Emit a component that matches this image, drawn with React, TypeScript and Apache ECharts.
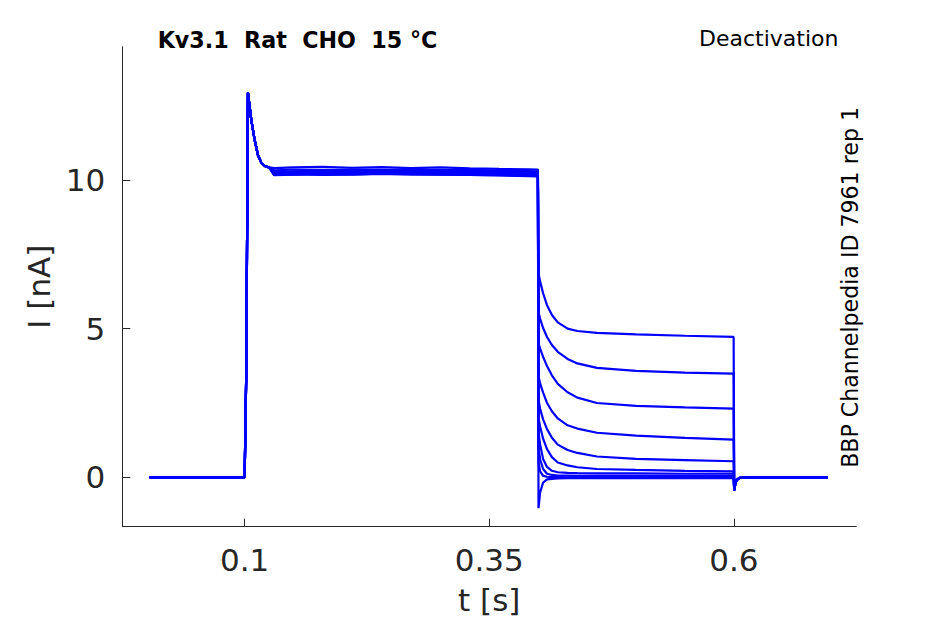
import React, { useEffect, useRef } from "react";
import * as echarts from "echarts";

// ---- Data ----
const xTicks = [0.1, 0.35, 0.6];
const yTicks = [0, 5, 10];

const baseTimes = [0.003, 0.1];
const baseValues = [0, 0];

const riseTimes = [0.1001, 0.1017, 0.1034, 0.1068, 0.1102, 0.1136, 0.117, 0.1205, 0.125];
const riseValues = [0.15, 3.6, 12.93, 12.02, 11.35, 10.84, 10.58, 10.47, 10.42];

const plateauTimes = [0.13, 0.15, 0.18, 0.21, 0.24, 0.27, 0.3, 0.33, 0.36, 0.39, 0.3997];
const plateau1 = [10.4, 10.42, 10.44, 10.41, 10.43, 10.4, 10.42, 10.39, 10.37, 10.36, 10.35];
const plateau2 = [10.32, 10.35, 10.33, 10.36, 10.34, 10.35, 10.33, 10.34, 10.31, 10.3, 10.29];
const plateau3 = [10.28, 10.27, 10.3, 10.28, 10.3, 10.27, 10.29, 10.27, 10.26, 10.24, 10.24];
const plateau4 = [10.25, 10.24, 10.26, 10.25, 10.27, 10.28, 10.26, 10.25, 10.23, 10.22, 10.21];
const plateau5 = [10.22, 10.24, 10.23, 10.22, 10.24, 10.25, 10.23, 10.21, 10.2, 10.19, 10.18];
const plateau6 = [10.2, 10.22, 10.19, 10.21, 10.2, 10.22, 10.21, 10.19, 10.18, 10.16, 10.15];
const plateau7 = [10.18, 10.19, 10.17, 10.18, 10.2, 10.18, 10.19, 10.17, 10.16, 10.14, 10.13];
const plateau8 = [10.16, 10.18, 10.2, 10.19, 10.21, 10.2, 10.18, 10.17, 10.15, 10.13, 10.12];
const plateau9 = [10.24, 10.27, 10.25, 10.29, 10.26, 10.28, 10.25, 10.26, 10.24, 10.22, 10.2];
const plateau10 = [10.3, 10.28, 10.31, 10.29, 10.32, 10.3, 10.31, 10.28, 10.27, 10.25, 10.26];

const tailTimes = [0.4003, 0.402, 0.405, 0.409, 0.414, 0.42, 0.43, 0.44, 0.46, 0.5, 0.55, 0.5997];
const tail1 = [6.86, 6.58, 6.19, 5.79, 5.46, 5.21, 5.0, 4.92, 4.86, 4.81, 4.76, 4.72];
const tail2 = [5.55, 5.33, 5.02, 4.72, 4.45, 4.22, 3.98, 3.83, 3.68, 3.58, 3.52, 3.49];
const tail3 = [4.5, 4.33, 4.05, 3.74, 3.43, 3.14, 2.86, 2.68, 2.5, 2.4, 2.35, 2.31];
const tail4 = [3.4, 3.15, 2.85, 2.5, 2.22, 1.98, 1.75, 1.64, 1.5, 1.4, 1.33, 1.27];
const tail5 = [2.6, 2.3, 1.95, 1.62, 1.33, 1.1, 0.92, 0.82, 0.7, 0.62, 0.58, 0.54];
const tail6 = [2.0, 1.7, 1.3, 0.95, 0.68, 0.5, 0.4, 0.34, 0.28, 0.25, 0.22, 0.2];
const tail7 = [1.5, 1.1, 0.62, 0.35, 0.22, 0.17, 0.15, 0.14, 0.13, 0.13, 0.12, 0.12];
const tail8 = [1.0, 0.6, 0.28, 0.12, 0.08, 0.06, 0.06, 0.05, 0.05, 0.05, 0.05, 0.05];
const tail9 = [0.5, 0.2, 0.05, 0.02, 0.01, 0.01, 0.0, 0.0, 0.0, 0.0, 0.0, 0.0];
const tail10 = [-1.04, -0.5, -0.18, -0.07, -0.05, -0.04, -0.03, -0.03, -0.03, -0.03, -0.03, -0.03];

const postTimes = [0.6003, 0.6015, 0.603, 0.606, 0.65, 0.696];
const postValues = [-0.44, -0.2, -0.08, -0.02, 0, 0];

const plateaus = [plateau1, plateau2, plateau3, plateau4, plateau5, plateau6, plateau7, plateau8, plateau9, plateau10];
const tails = [tail1, tail2, tail3, tail4, tail5, tail6, tail7, tail8, tail9, tail10];

const zip = (t: number[], v: number[]) => t.map((x, i) => [x, v[i]]);

export default function App() {
  const ref = useRef<HTMLDivElement>(null);
  useEffect(() => {
    if (!ref.current) return;
    const chart = echarts.init(ref.current, undefined, { renderer: "svg" });
    const axisColor = "#262626";
    const font = "DejaVu Sans";
    const series = tails.map((tail, i) => ({
      type: "line",
      showSymbol: false,
      symbol: "none",
      silent: true,
      lineStyle: { color: "#0000ff", width: 2.2 },
      data: [
        ...zip(baseTimes, baseValues),
        ...zip(riseTimes, riseValues),
        ...zip(plateauTimes, plateaus[i]),
        ...zip(tailTimes, tail),
        ...zip(postTimes, postValues),
      ],
    }));
    chart.setOption({
      animation: false,
      grid: { left: 122.3, right: 88.75, top: 46.7, bottom: 97.3, containLabel: false },
      xAxis: {
        type: "value",
        min: -0.025,
        max: 0.725,
        name: "t [s]",
        nameLocation: "middle",
        nameGap: 58,
        nameTextStyle: { fontFamily: font, fontSize: 31, color: axisColor },
        axisLine: { show: true, onZero: false, lineStyle: { color: axisColor, width: 1 } },
        axisTick: { show: true, inside: true, length: 8, customValues: xTicks, lineStyle: { color: axisColor } },
        axisLabel: { show: true, customValues: xTicks, margin: 18, fontFamily: font, fontSize: 31, color: axisColor },
        splitLine: { show: false },
      },
      yAxis: {
        type: "value",
        min: -1.66,
        max: 14.48,
        name: "I [nA]",
        nameLocation: "middle",
        nameGap: 64,
        nameRotate: 90,
        nameTextStyle: { fontFamily: font, fontSize: 31, color: axisColor },
        axisLine: { show: true, onZero: false, lineStyle: { color: axisColor, width: 1 } },
        axisTick: { show: true, inside: true, length: 8, customValues: yTicks, lineStyle: { color: axisColor } },
        axisLabel: { show: true, customValues: yTicks, margin: 17, fontFamily: font, fontSize: 31, color: axisColor },
        splitLine: { show: false },
      },
      graphic: [
        {
          type: "text",
          x: 297.5,
          y: 39.5,
          style: {
            text: "Kv3.1  Rat  CHO  15 °C",
            fontFamily: font,
            fontWeight: "bold",
            fontSize: 22.2,
            fill: "#000",
            align: "center",
            verticalAlign: "middle",
          },
        },
        {
          type: "text",
          x: 838.5,
          y: 38.5,
          style: {
            text: "Deactivation",
            fontFamily: font,
            fontSize: 22,
            fill: "#000",
            align: "right",
            verticalAlign: "middle",
          },
        },
        {
          type: "text",
          x: 849.5,
          y: 287.4,
          rotation: Math.PI / 2,
          style: {
            text: "BBP Channelpedia ID 7961 rep 1",
            fontFamily: font,
            fontSize: 22.1,
            fill: "#000",
            align: "center",
            verticalAlign: "middle",
          },
        },
      ],
      series,
    });
    return () => chart.dispose();
  }, []);
  return (
    <div
      ref={ref}
      style={{ position: "fixed", left: 0, top: 0, width: 945, height: 624, background: "#fff" }}
    />
  );
}
